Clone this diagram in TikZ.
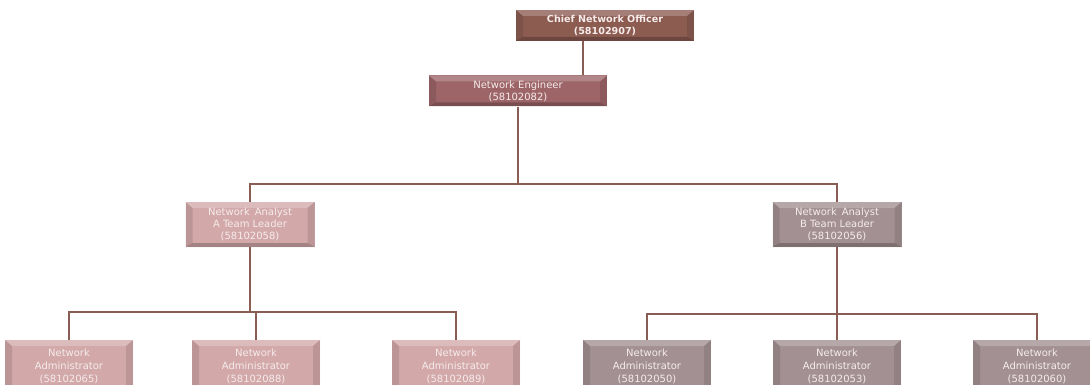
\documentclass[tikz,border=0pt]{standalone}
\usepackage{fontspec}
\setmainfont{DejaVu Sans}
\begin{document}
\begin{tikzpicture}[x=1pt,y=-1pt,
  conn/.style={draw=linec,line width=2.8pt},
  bevelbox/.style={rectangle,fill=#1,text=txt,align=center,inner sep=0pt,
    font=\fontsize{10}{12}\selectfont,
    path picture={
      \fill[white,opacity=0.22] (path picture bounding box.north west) -- (path picture bounding box.north east)
        -- ([xshift=-7pt,yshift=-6pt]path picture bounding box.north east) -- ([xshift=7pt,yshift=-6pt]path picture bounding box.north west) -- cycle;
      \fill[black,opacity=0.22] (path picture bounding box.south west) -- (path picture bounding box.south east)
        -- ([xshift=-7pt,yshift=4pt]path picture bounding box.south east) -- ([xshift=7pt,yshift=4pt]path picture bounding box.south west) -- cycle;
      \fill[black,opacity=0.10] (path picture bounding box.north west) -- ([xshift=7pt,yshift=-6pt]path picture bounding box.north west)
        -- ([xshift=7pt,yshift=4pt]path picture bounding box.south west) -- (path picture bounding box.south west) -- cycle;
      \fill[black,opacity=0.10] (path picture bounding box.north east) -- ([xshift=-7pt,yshift=-6pt]path picture bounding box.north east)
        -- ([xshift=-7pt,yshift=4pt]path picture bounding box.south east) -- (path picture bounding box.south east) -- cycle;
    }},
  topbox/.style={bevelbox=#1,minimum width=178pt,minimum height=31pt},
  midbox/.style={bevelbox=#1,minimum width=129pt,minimum height=45pt},
  lowbox/.style={bevelbox=#1,minimum width=128pt,minimum height=52pt,font=\fontsize{10}{13}\selectfont}
]
\definecolor{linec}{HTML}{8A5D54}
\definecolor{txt}{HTML}{F6ECEC}
\definecolor{chiefc}{HTML}{8C5C51}
\definecolor{engc}{HTML}{9D6568}
\definecolor{pinkc}{HTML}{D2A8A9}
\definecolor{greyc}{HTML}{A29092}
\useasboundingbox (0,0) rectangle (1090,385);
\clip (0,0) rectangle (1090,385);

\node[topbox=chiefc,font=\fontsize{9.6}{12}\selectfont\bfseries] (chief) at (605,25.5) {Chief Network Officer\\(58102907)};
\node[topbox=engc] (eng) at (518,91) {Network Engineer\\(58102082)};

\node[midbox=pinkc] (anA) at (250,224.5) {Network\enspace Analyst\\A Team Leader\\(58102058)};
\node[midbox=greyc] (anB) at (837,224.5) {Network\enspace Analyst\\B Team Leader\\(58102056)};

\node[lowbox=pinkc] (a1) at (69,366) {Network\\Administrator\\(58102065)};
\node[lowbox=pinkc] (a2) at (256,366) {Network\\Administrator\\(58102088)};
\node[lowbox=pinkc] (a3) at (456,366) {Network\\Administrator\\(58102089)};
\node[lowbox=greyc] (b1) at (647,366) {Network\\Administrator\\(58102050)};
\node[lowbox=greyc] (b2) at (837,366) {Network\\Administrator\\(58102053)};
\node[lowbox=greyc] (b3) at (1037,366) {Network\\Administrator\\(58102060)};

\coordinate (j0) at (518,184);
\coordinate (jA) at (250,312);
\coordinate (jB) at (837,314);

% connectors
\draw[conn] ([xshift=65pt]eng.north) -- ([xshift=65pt]eng.north |- chief.south);
\draw[conn] (eng.south) -- (j0);
\draw[conn] (anA.north) |- (j0) -| (anB.north);
\draw[conn] (anA.south) -- (jA);
\draw[conn] (a1.north) |- (jA) -| (a3.north);
\draw[conn] (a2.north) -- (a2.north |- jA);
\draw[conn] (anB.south) -- (jB);
\draw[conn] (b1.north) |- (jB) -| (b3.north);
\draw[conn] (b2.north) -- (jB);
\end{tikzpicture}
\end{document}
